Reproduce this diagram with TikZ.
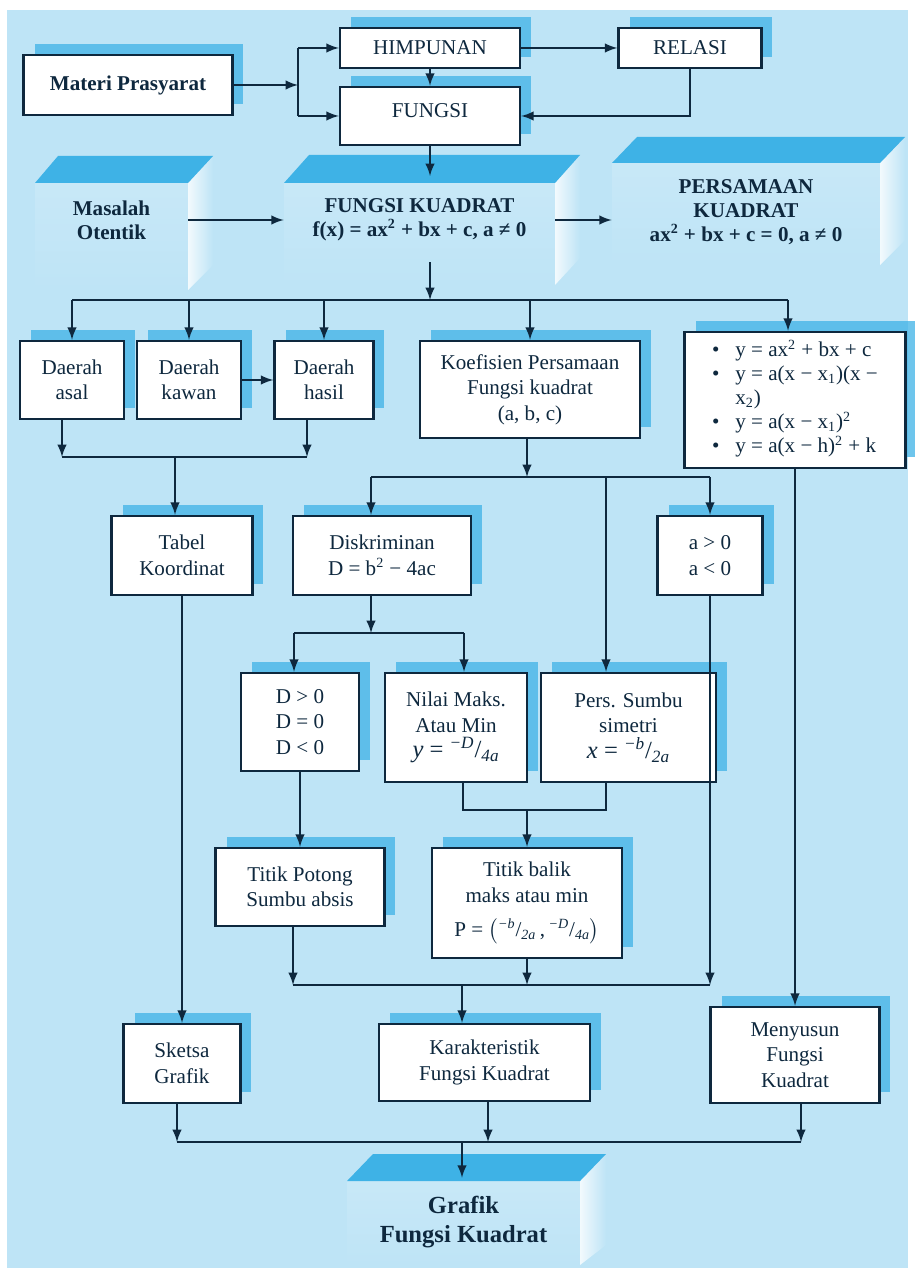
\documentclass[tikz,border=0pt]{standalone}
\usepackage{amsmath}
\usepackage{fontspec}
\setmainfont{Liberation Serif}
\usepackage{tikz}
\usetikzlibrary{calc,shapes,backgrounds,arrows,shadows,positioning}

\definecolor{latar}{RGB}{190,228,246}
\definecolor{bayang}{RGB}{62,178,230}
\definecolor{garis}{RGB}{14,40,62}
\newcommand{\miring}[2]{\textsuperscript{\textit{#1}}/\textsubscript{\textit{#2}}}

\begin{document}
\begin{tikzpicture}[x=0.02cm,y=-0.02cm,>=latex]
		\tikzstyle{kotak}=[draw=garis, fill=white, line width=1.4pt, text=garis, align=center, inner sep=0pt, font=\fontsize{12}{14.5}\selectfont, drop shadow={shadow xshift=0.22cm, shadow yshift=0.22cm, fill=bayang, opacity=0.75}]
		\tikzstyle{blok}=[text=garis, align=center, inner sep=0pt, font=\bfseries\fontsize{12}{13.5}\selectfont]
		\tikzstyle{alur}=[draw=garis, line width=1.4pt]
		\tikzstyle{panah}=[alur, ->]

		\useasboundingbox (0,0) rectangle (914,1273);
		\fill[latar] (7,10) rectangle (908,1268);

		% balok tiga dimensi
		\shade[top color=latar!85!white, bottom color=latar] (35,183) rectangle (188,290);
		\shade[left color=white!80!latar, right color=latar] (188,183) -- (213,156) -- (213,265) -- (188,290) -- cycle;
		\fill[bayang] (35,183) -- (58,156) -- (213,156) -- (188,183) -- cycle;

		\shade[top color=latar!85!white, bottom color=latar] (284,183) rectangle (555,285);
		\shade[left color=white!80!latar, right color=latar] (555,183) -- (580,155) -- (580,258) -- (555,285) -- cycle;
		\fill[bayang] (284,183) -- (309,155) -- (580,155) -- (555,183) -- cycle;

		\shade[top color=latar!85!white, bottom color=latar] (612,163) rectangle (880,265);
		\shade[left color=white!80!latar, right color=latar] (880,163) -- (905,137) -- (905,240) -- (880,265) -- cycle;
		\fill[bayang] (612,163) -- (637,137) -- (905,137) -- (880,163) -- cycle;

		\shade[top color=latar!85!white, bottom color=latar] (347,1181) rectangle (580,1265);
		\shade[left color=white!80!latar, right color=latar] (580,1181) -- (606,1154) -- (606,1245) -- (580,1265) -- cycle;
		\fill[bayang] (347,1181) -- (373,1154) -- (606,1154) -- (580,1181) -- cycle;

		\node[kotak, font=\bfseries\fontsize{12}{14.5}\selectfont, minimum width=4.18cm, minimum height=1.2cm] (MP) at (128,85) {Materi Prasyarat};
		\node[kotak, minimum width=3.6cm, minimum height=0.8cm] (HIM) at (430,48) {HIMPUNAN};
		\node[kotak, minimum width=2.86cm, minimum height=0.8cm] (REL) at (690,48) {RELASI};
		\node[kotak, minimum width=3.6cm, minimum height=1.16cm, text depth=6pt] (FUN) at (430,116) {FUNGSI};

		\node[blok, minimum width=3.06cm, minimum height=1.68cm] (B1) at (111.5,220) {Masalah\\Otentik};
		\node[blok, minimum width=5.42cm, minimum height=1.68cm] (FK) at (419.5,220) {FUNGSI KUADRAT\\f(x) = ax\textsuperscript{2} + bx + c, a ≠ 0};
		\node[blok, minimum width=5.36cm, minimum height=1.68cm] (PK) at (746,212) {PERSAMAAN\\KUADRAT\\ax\textsuperscript{2} + bx + c = 0, a ≠ 0};

		\node[kotak, minimum width=2.08cm, minimum height=1.56cm] (DA) at (72,380) {Daerah\\asal};
		\node[kotak, minimum width=2.08cm, minimum height=1.56cm] (DK) at (189,380) {Daerah\\kawan};
		\node[kotak, minimum width=1.98cm, minimum height=1.56cm] (DH) at (324,380) {Daerah\\hasil};
		\node[kotak, minimum width=4.4cm, minimum height=1.94cm] (KP) at (530,389.5) {Koefisien Persamaan\\Fungsi kuadrat\\(a, b, c)};
		\node[kotak, minimum width=4.42cm, minimum height=2.72cm] (BF) at (795,400) {\fontsize{12}{13.6}\selectfont
			\begin{tabular}{@{}c@{\hspace{9pt}}l@{}}
			\textbullet & y = ax\textsuperscript{2} + bx + c\\
			\textbullet & y = a(x − x\textsubscript{1})(x −\\
			 & x\textsubscript{2})\\
			\textbullet & y = a(x − x\textsubscript{1})\textsuperscript{2}\\
			\textbullet & y = a(x − h)\textsuperscript{2} + k
			\end{tabular}};

		\node[kotak, minimum width=2.82cm, minimum height=1.58cm] (TK) at (182,555.5) {Tabel\\Koordinat};
		\node[kotak, minimum width=3.56cm, minimum height=1.58cm] (DS) at (382,555.5) {Diskriminan\\D = b\textsuperscript{2} − 4ac};
		\node[kotak, minimum width=2.1cm, minimum height=1.58cm] (AA) at (710,555.5) {a > 0\\a < 0};

		\node[kotak, minimum width=2.36cm, minimum height=1.96cm] (DD) at (300,722) {D > 0\\D = 0\\D < 0};
		\node[kotak, minimum width=2.84cm, minimum height=2.18cm] (NM) at (456,727.5) {Nilai Maks.\\Atau Min\\{\fontsize{14}{14.5}\selectfont\textit{y} = \miring{−D}{4a}}};
		\node[kotak, minimum width=3.5cm, minimum height=2.18cm] (PS) at (628.5,727.5) {Pers. Sumbu\\simetri\\{\fontsize{14}{14.5}\selectfont\textit{x} = \miring{−b}{2a}}};

		\node[kotak, minimum width=3.38cm, minimum height=1.56cm] (TP) at (300,887) {Titik Potong\\Sumbu absis};
		\node[kotak, minimum width=3.8cm, minimum height=2.2cm] (TB) at (527,903) {Titik balik\\maks atau min\\[5pt]P = $\bigl($\miring{−b}{2a}\,,\,\miring{−D}{4a}$\bigr)$};

		\node[kotak, minimum width=2.34cm, minimum height=1.58cm] (SG) at (182,1063.5) {Sketsa\\Grafik};
		\node[kotak, minimum width=4.22cm, minimum height=1.54cm] (KF) at (484.5,1062.5) {Karakteristik\\Fungsi Kuadrat};
		\node[kotak, minimum width=3.38cm, minimum height=1.92cm] (MF) at (795,1055) {Menyusun\\Fungsi\\Kuadrat};

		\node[blok, font=\bfseries\fontsize{14}{17}\selectfont, minimum width=4.66cm, minimum height=1.76cm] (GF) at (463.5,1222) {Grafik\\Fungsi Kuadrat};

		% titik cabang
		\coordinate (j0) at (298,87);
		\coordinate (f0) at (430,176);
		\coordinate (h1) at (430,300);
		\coordinate (h2) at (788,300);
		\coordinate (j2) at (62,457);
		\coordinate (j3) at (307,457);
		\coordinate (j4) at (175,457);
		\coordinate (k0) at (527,477);
		\coordinate (k1) at (371,477);
		\coordinate (k2) at (606,477);
		\coordinate (k3) at (710,477);
		\coordinate (m0) at (371,633);
		\coordinate (m1) at (294,633);
		\coordinate (m2) at (464,633);
		\coordinate (n0) at (527,810);
		\coordinate (n1) at (463,810);
		\coordinate (n2) at (606,810);
		\coordinate (q0) at (462,985);
		\coordinate (q1) at (293,985);
		\coordinate (q2) at (710,985);
		\coordinate (r0) at (462,1142);
		\coordinate (r1) at (177,1142);
		\coordinate (r2) at (801,1142);
		\coordinate (r3) at (488,1142);

		\draw[panah] (MP.east) -- (MP.east -| j0);
		\draw[alur] (j0 |- HIM.west) -- (j0 |- FUN.west);
		\draw[panah] (j0 |- HIM.west) -- (HIM.west);
		\draw[panah] (j0 |- FUN.west) -- (FUN.west);
		\draw[panah] (HIM) -- (REL);
		\draw[panah] (HIM) -- (FUN);
		\draw[panah] (REL.south) |- (FUN.east);
		\draw[panah] (FUN.south) -- (f0);

		\draw[panah] (B1.east) -- (FK.west);
		\draw[panah] (FK.east) -- (FK.east -| PK.west);
		\draw[panah] (FK.south -| h1) -- (h1);

		\draw[alur] (DA.north |- h1) -- (h2);
		\draw[panah] (DA.north |- h1) -- (DA.north);
		\draw[panah] (DK.north |- h1) -- (DK.north);
		\draw[panah] (DH.north |- h1) -- (DH.north);
		\draw[panah] (KP.north |- h1) -- (KP.north);
		\draw[panah] (h2) -- (h2 |- BF.north);

		\draw[panah] (DK) -- (DH);
		\draw[panah] (DA.south -| j2) -- (j2);
		\draw[panah] (DH.south -| j3) -- (j3);
		\draw[alur] (j2) -- (j3);
		\draw[panah] (j4) -- (j4 |- TK.north);

		\draw[panah] (KP.south -| k0) -- (k0);
		\draw[alur] (k1) -- (k3);
		\draw[panah] (k1) -- (k1 |- DS.north);
		\draw[panah] (k2) -- (k2 |- PS.north);
		\draw[panah] (k3) -- (k3 |- AA.north);

		\draw[panah] (DS.south -| m0) -- (m0);
		\draw[alur] (m1) -- (m2);
		\draw[panah] (m1) -- (m1 |- DD.north);
		\draw[panah] (m2) -- (m2 |- NM.north);

		\draw[alur] (NM.south -| n1) -- (n1) -- (n2) -- (PS.south -| n2);
		\draw[panah] (n0) -- (n0 |- TB.north);
		\draw[panah] (DD) -- (TP);

		\draw[panah] (TP.south -| q1) -- (q1);
		\draw[panah] (TB.south) -- (TB.south |- q0);
		\draw[panah] (AA.south -| q2) -- (q2);
		\draw[alur] (q1) -- (q2);
		\draw[panah] (q0) -- (q0 |- KF.north);

		\draw[panah] (TK) -- (SG);
		\draw[panah] (BF) -- (MF);

		\draw[panah] (SG.south -| r1) -- (r1);
		\draw[panah] (KF.south -| r3) -- (r3);
		\draw[panah] (MF.south -| r2) -- (r2);
		\draw[alur] (r1) -- (r2);
		\draw[panah] (r0) -- (r0 |- GF.north);
\end{tikzpicture}
\end{document}
